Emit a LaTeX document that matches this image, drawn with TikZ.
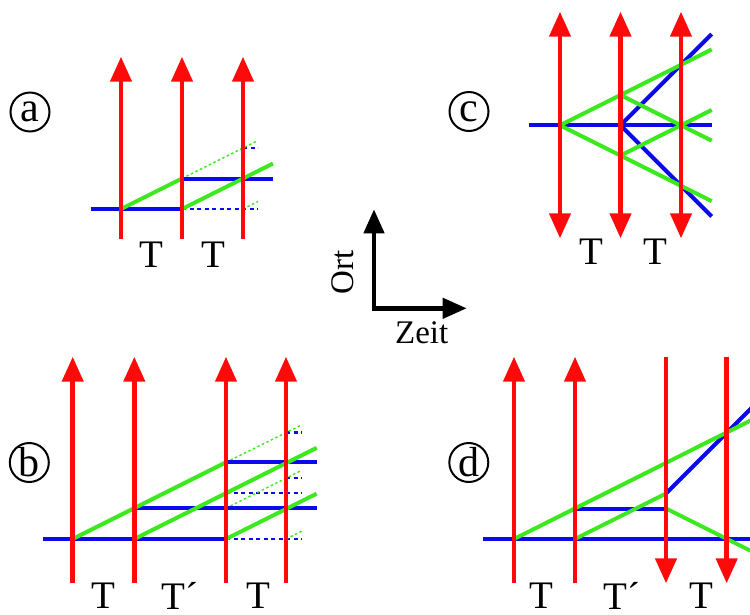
\documentclass[tikz,border=0pt]{standalone}
\usepackage{fontspec}
\setmainfont{Liberation Serif}
\usetikzlibrary{arrows.meta}
\definecolor{rd}{RGB}{255,10,10}
\definecolor{bl}{RGB}{10,10,235}
\definecolor{gr}{RGB}{60,232,30}
\tikzset{
  redarr/.style={draw=rd,line width=4.5pt,-{Triangle[width=21pt,length=25pt]}},
  redboth/.style={draw=rd,line width=4.5pt,{Triangle[width=21pt,length=25pt]}-{Triangle[width=21pt,length=25pt]}},
  blueln/.style={draw=bl,line width=4pt},
  greenln/.style={draw=gr,line width=4pt},
  bluedot/.style={draw=bl,line width=2.4pt,dash pattern=on 4pt off 3.5pt},
  greendot/.style={draw=gr,line width=1.4pt,dash pattern=on 2.5pt off 2.5pt},
  axisln/.style={draw=black,line width=4.5pt,miter limit=10,{Triangle[width=20pt,length=24pt]}-{Triangle[width=20pt,length=24pt]}},
  tlabel/.style={inner sep=0pt,font=\fontsize{39}{42}\selectfont},
  axlabel/.style={inner sep=0pt,font=\fontsize{33}{38}\selectfont},
  circlab/.style={circle,draw=black,line width=2pt,minimum size=39pt,inner sep=0pt,font=\fontsize{42}{44}\selectfont}
}
\begin{document}
\begin{tikzpicture}[x=1pt,y=-1pt]
\useasboundingbox (0,0) rectangle (750,614);
% ---------------- panel a ----------------
\node[circlab] (la) at (30,112) {a};
\coordinate (a1b) at (121,239); \coordinate (a1t) at (121,56.7);
\coordinate (a2b) at (182,239); \coordinate (a2t) at (182,56.7);
\coordinate (a3b) at (243,239); \coordinate (a3t) at (243,56.7);
\coordinate (aL) at (90.7,209);
\coordinate (aP1) at (121,209);
\coordinate (aP2) at (182,209);
\coordinate (aQ2) at (182,178.5);
\coordinate (aE1) at (273,178.5);
\coordinate (aE2) at (273,163.5);
\coordinate (aD1) at (258,209);
\coordinate (aD2) at (258,140.5);
\coordinate (aR3) at (243,148);
\coordinate (aD3) at (258,148);
\coordinate (aP3) at (243,209);
\coordinate (aD4) at (258,201.5);
\draw[bluedot] (aP2) -- (aD1);
\draw[bluedot] (aR3) -- (aD3);
\draw[greendot] (aQ2) -- (aD2);
\draw[greendot] (aP3) -- (aD4);
\draw[blueln] (aL) -- (aP2);
\draw[blueln] (aQ2) -- (aE1);
\draw[greenln] (aP1) -- (aQ2);
\draw[greenln] (aP2) -- (aE2);
\draw[redarr] (a1b) -- (a1t);
\draw[redarr] (a2b) -- (a2t);
\draw[redarr] (a3b) -- (a3t);
\node[tlabel] (aT1) at (151.5,254.5) {T};
\node[tlabel] (aT2) at (213,254.5) {T};
% ---------------- panel c ----------------
\node[circlab] (lc) at (469,111.5) {c};
\coordinate (c1b) at (560,238.3); \coordinate (c1t) at (560,11.7);
\coordinate (c2b) at (620.5,238.3); \coordinate (c2t) at (620.5,11.7);
\coordinate (c3b) at (681,238.3); \coordinate (c3t) at (681,11.7);
\coordinate (cL) at (529.3,125.3);
\coordinate (cR) at (711.7,125.3);
\coordinate (cP1) at (560,125.3);
\coordinate (cP2) at (620.5,125.3);
\coordinate (cU) at (620.5,95.05);
\coordinate (cD) at (620.5,155.55);
\coordinate (cG1) at (711.7,49.45);
\coordinate (cG2) at (711.7,140.65);
\coordinate (cG3) at (711.7,109.95);
\coordinate (cG4) at (711.7,201.15);
\coordinate (cB1) at (711.7,34.1);
\coordinate (cB2) at (711.7,216.5);
\draw[blueln] (cL) -- (cR);
\draw[blueln] (cB1) -- (cP2) -- (cB2);
\draw[greenln] (cP1) -- (cG1);
\draw[greenln] (cP1) -- (cG4);
\draw[greenln] (cU) -- (cG2);
\draw[greenln] (cD) -- (cG3);
\draw[redboth] (c1b) -- (c1t);
\draw[redboth] (c2b) -- (c2t);
\draw[redboth] (c3b) -- (c3t);
\node[tlabel] (cT1) at (591.5,252) {T};
\node[tlabel] (cT2) at (655,252) {T};
% ---------------- axes ----------------
\coordinate (ax0) at (374,308.3);
\coordinate (axU) at (374,209.3);
\coordinate (axR) at (466.7,308.3);
\draw[axisln] (axU) -- (ax0) -- (axR);
\node[axlabel,rotate=90] (ort) at (342.5,272.5) {Ort};
\node[axlabel] (zeit) at (421.7,333) {Zeit};
% ---------------- panel b ----------------
\node[circlab] (lb) at (29.3,462.5) {b};
\coordinate (b1b) at (72.7,583.3); \coordinate (b1t) at (72.7,356.7);
\coordinate (b2b) at (134.3,583.3); \coordinate (b2t) at (134.3,356.7);
\coordinate (b3b) at (226,583.3); \coordinate (b3t) at (226,356.7);
\coordinate (b4b) at (286,583.3); \coordinate (b4t) at (286,356.7);
\coordinate (bL) at (43.3,539);
\coordinate (bP1) at (72.7,539);
\coordinate (bP2) at (134.3,539);
\coordinate (bP3) at (226,539);
\coordinate (bP4) at (286,539);
\coordinate (bM2) at (134.3,508.2);
\coordinate (bM3) at (226,508.2);
\coordinate (bME) at (316.7,508.2);
\coordinate (bU3) at (226,462.35);
\coordinate (bUE) at (316.7,462.35);
\coordinate (bG1) at (301.7,424.85);
\coordinate (bG2) at (316.7,447.8);
\coordinate (bG3) at (316.7,493.65);
\coordinate (bX3) at (226,493.15);
\coordinate (bXD) at (301.7,493.15);
\coordinate (bGD) at (301.7,470.35);
\coordinate (bY4) at (286,478.2);
\coordinate (bYD) at (301.7,478.2);
\coordinate (bZ4) at (286,432.35);
\coordinate (bZD) at (301.7,432.35);
\coordinate (bBD) at (301.7,539);
\coordinate (bGB) at (301.7,531.15);
\draw[bluedot] (bP3) -- (bBD);
\draw[bluedot] (bX3) -- (bXD);
\draw[bluedot] (bY4) -- (bYD);
\draw[bluedot] (bZ4) -- (bZD);
\draw[greendot] (bU3) -- (bG1);
\draw[greendot] (bM3) -- (bGD);
\draw[greendot] (bP4) -- (bGB);
\draw[blueln] (bL) -- (bP3);
\draw[blueln] (bM2) -- (bME);
\draw[blueln] (bU3) -- (bUE);
\draw[greenln] (bP1) -- (bU3);
\draw[greenln] (bP2) -- (bG2);
\draw[greenln] (bP3) -- (bG3);
\draw[redarr] (b1b) -- (b1t);
\draw[redarr] (b2b) -- (b2t);
\draw[redarr] (b3b) -- (b3t);
\draw[redarr] (b4b) -- (b4t);
\node[tlabel] (bT1) at (103.3,596) {T};
\node[tlabel] (bT2) at (180,596) {T´};
\node[tlabel] (bT3) at (258.3,596) {T};
% ---------------- panel d ----------------
\node[circlab] (ld) at (468.8,462.5) {d};
\coordinate (d1b) at (514,583.3); \coordinate (d1t) at (514,356.7);
\coordinate (d2b) at (575,583.3); \coordinate (d2t) at (575,356.7);
\coordinate (d3b) at (666,356.7); \coordinate (d3t) at (666,583.3);
\coordinate (d4b) at (726.7,356.7); \coordinate (d4t) at (726.7,583.3);
\coordinate (dL) at (483.3,539);
\coordinate (dR) at (752,539);
\coordinate (dP1) at (514,539);
\coordinate (dP2) at (575,539);
\coordinate (dM2) at (575,508.5);
\coordinate (dM3) at (666,508.5);
\coordinate (dX3) at (666,493.5);
\coordinate (dG1) at (752,419.8);
\coordinate (dB1) at (752,407.5);
\coordinate (dG3) at (752,551.5);
\draw[blueln] (dL) -- (dR);
\draw[blueln] (dM2) -- (dM3);
\draw[blueln] (dX3) -- (dB1);
\draw[greenln] (dP1) -- (dG1);
\draw[greenln] (dP2) -- (dX3);
\draw[greenln] (dM3) -- (dG3);
\draw[redarr] (d1b) -- (d1t);
\draw[redarr] (d2b) -- (d2t);
\draw[redarr] (d3b) -- (d3t);
\draw[redarr] (d4b) -- (d4t);
\node[tlabel] (dT1) at (541.7,596) {T};
\node[tlabel] (dT2) at (622,596) {T´};
\node[tlabel] (dT3) at (701.7,596) {T};
\end{tikzpicture}
\end{document}
